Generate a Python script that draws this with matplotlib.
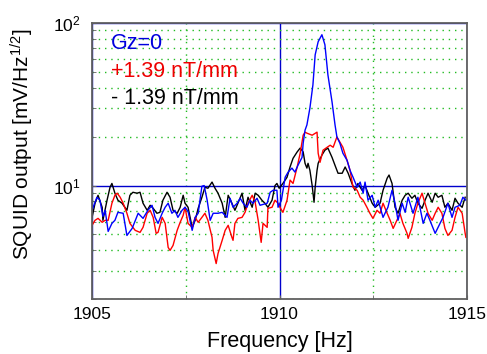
"""
SQUID output spectrum around 1910 Hz for three gradient settings (Gz).
Log y axis, blue major grid, green dotted minor grid.
"""

import matplotlib
matplotlib.use("Agg")
import matplotlib.pyplot as plt
from matplotlib.ticker import FixedLocator, MultipleLocator, NullFormatter, LogLocator

plt.rcParams["font.family"] = ["Liberation Sans", "DejaVu Sans"]
plt.rcParams["mathtext.fontset"] = "custom"
plt.rcParams["mathtext.rm"] = "Liberation Sans"
plt.rcParams["mathtext.it"] = "Liberation Sans:italic"

# =============================================================================
# Data (frequency in Hz, output in mV/Hz^1/2)
# =============================================================================

# Gz = 0 (blue)
freq_gz0 = [1905.00, 1905.13, 1905.21, 1905.29, 1905.35, 1905.43, 1905.53, 1905.61,
            1905.69, 1905.83, 1905.93, 1906.07, 1906.23, 1906.36, 1906.49, 1906.60,
            1906.68, 1906.76, 1906.87, 1906.95, 1907.03, 1907.13, 1907.21, 1907.29,
            1907.40, 1907.48, 1907.56, 1907.67, 1907.75, 1907.83, 1907.93, 1907.99,
            1908.07, 1908.15, 1908.23, 1908.36, 1908.47, 1908.60, 1908.68, 1908.76,
            1908.87, 1908.95, 1909.03, 1909.13, 1909.21, 1909.29, 1909.40, 1909.48,
            1909.67, 1909.75, 1909.83, 1909.93, 1909.96, 1910.05, 1910.15, 1910.23,
            1910.33, 1910.41, 1910.49, 1910.60, 1910.63, 1910.68, 1910.73, 1910.81,
            1910.89, 1910.95, 1911.03, 1911.13, 1911.21, 1911.29, 1911.40, 1911.48,
            1911.53, 1911.61, 1911.69, 1911.80, 1911.88, 1911.96, 1912.07, 1912.15,
            1912.23, 1912.28, 1912.36, 1912.47, 1912.55, 1912.63, 1912.76, 1912.89,
            1913.00, 1913.08, 1913.16, 1913.27, 1913.35, 1913.43, 1913.56, 1913.69,
            1913.83, 1913.93, 1914.01, 1914.15, 1914.28, 1914.36, 1914.49, 1914.60,
            1914.68, 1914.81, 1914.89, 1914.97]
out_gz0 = [7.04, 8.47, 8.12, 6.46, 7.04, 5.22, 5.85, 6.11,
           6.84, 6.75, 4.93, 5.45, 6.75, 6.28, 7.04, 7.56,
           6.37, 5.85, 6.75, 7.35, 7.78, 6.75, 7.04, 6.37,
           7.04, 7.35, 6.94, 5.30, 6.37, 6.75, 9.90, 10.0,
           8.12, 6.11, 6.75, 6.75, 6.84, 6.37, 8.35, 7.35,
           7.78, 8.35, 7.78, 7.35, 8.12, 7.78, 8.35, 7.56,
           7.78, 9.09, 9.35, 9.35, 7.35, 8.12, 11.25, 12.1,
           12.8, 12.1, 13.3, 14.9, 18.2, 21.9, 23.6, 30.0,
           41.6, 63.7, 76.7, 84.7, 73.5, 48.0, 32.7, 23.6,
           19.9, 18.2, 15.8, 14.3, 12.4, 11.25, 9.76, 10.5,
           8.97, 10.5, 8.12, 8.71, 7.35, 8.12, 6.37, 7.35,
           9.35, 7.78, 6.11, 7.78, 6.84, 8.47, 6.75, 8.47,
           5.85, 6.75, 6.11, 5.08, 5.85, 6.37, 7.78, 6.37,
           7.35, 7.56, 8.47, 8.12]

# Gz = +1.39 nT/mm (red)
freq_plus = [1905.00, 1905.08, 1905.16, 1905.27, 1905.35, 1905.43, 1905.53, 1905.61,
             1905.67, 1905.75, 1905.83, 1905.93, 1906.01, 1906.15, 1906.28, 1906.36,
             1906.47, 1906.55, 1906.63, 1906.71, 1906.76, 1906.87, 1906.95, 1907.03,
             1907.08, 1907.16, 1907.27, 1907.35, 1907.43, 1907.48, 1907.56, 1907.67,
             1907.75, 1907.83, 1907.93, 1908.01, 1908.09, 1908.20, 1908.23, 1908.31,
             1908.36, 1908.47, 1908.55, 1908.63, 1908.73, 1908.76, 1908.81, 1908.89,
             1909.00, 1909.08, 1909.16, 1909.27, 1909.35, 1909.43, 1909.51, 1909.56,
             1909.67, 1909.69, 1909.80, 1909.88, 1909.96, 1910.01, 1910.09, 1910.20,
             1910.28, 1910.36, 1910.47, 1910.55, 1910.63, 1910.68, 1910.73, 1910.87,
             1911.00, 1911.03, 1911.08, 1911.16, 1911.27, 1911.35, 1911.43, 1911.48,
             1911.53, 1911.61, 1911.69, 1911.80, 1911.88, 1911.96, 1912.07, 1912.15,
             1912.23, 1912.33, 1912.41, 1912.49, 1912.60, 1912.68, 1912.76, 1912.87,
             1912.95, 1913.03, 1913.13, 1913.21, 1913.29, 1913.40, 1913.43, 1913.53,
             1913.61, 1913.69, 1913.80, 1913.88, 1913.96, 1914.07, 1914.15, 1914.23,
             1914.33, 1914.41, 1914.49, 1914.60, 1914.68, 1914.76, 1914.87, 1914.95,
             1914.97]
out_plus = [5.69, 6.11, 6.28, 5.94, 6.11, 6.11, 7.78, 8.71,
            8.97, 8.47, 7.78, 6.75, 5.85, 5.30, 5.15, 5.53,
            6.75, 7.04, 6.37, 5.08, 5.15, 6.37, 5.85, 4.16,
            3.99, 4.28, 5.30, 5.94, 6.56, 7.35, 5.85, 5.53,
            6.37, 5.94, 6.37, 6.75, 6.11, 4.80, 3.99, 3.31,
            3.82, 4.60, 5.30, 5.69, 4.80, 4.60, 5.85, 6.28,
            6.37, 6.84, 7.78, 8.71, 7.89, 6.11, 4.47, 5.85,
            5.53, 7.24, 7.35, 8.12, 7.78, 7.35, 6.84, 8.12,
            10.8, 10.3, 13.0, 15.8, 20.4, 21.3, 21.0, 20.4,
            21.3, 15.8, 13.9, 16.5, 17.2, 17.7, 17.2, 18.5,
            19.9, 18.5, 17.2, 14.3, 12.4, 9.76, 9.35, 8.47,
            8.12, 7.35, 6.75, 6.28, 7.04, 6.75, 7.78, 6.75,
            6.11, 5.45, 6.11, 6.75, 5.85, 5.08, 4.73, 5.53,
            6.75, 7.78, 8.97, 7.78, 6.75, 6.11, 6.75, 7.35,
            6.75, 5.45, 4.93, 5.30, 6.37, 7.35, 6.75, 5.08,
            4.80]

# Gz = -1.39 nT/mm (black)
freq_minus = [1905.00, 1905.08, 1905.16, 1905.27, 1905.29, 1905.40, 1905.48, 1905.53,
              1905.61, 1905.69, 1905.80, 1905.93, 1906.01, 1906.09, 1906.20, 1906.28,
              1906.36, 1906.47, 1906.55, 1906.63, 1906.73, 1906.81, 1906.89, 1907.00,
              1907.08, 1907.16, 1907.27, 1907.35, 1907.43, 1907.48, 1907.56, 1907.67,
              1907.75, 1907.83, 1907.93, 1908.01, 1908.09, 1908.20, 1908.28, 1908.36,
              1908.47, 1908.55, 1908.63, 1908.73, 1908.81, 1908.89, 1909.00, 1909.08,
              1909.16, 1909.27, 1909.35, 1909.43, 1909.53, 1909.61, 1909.69, 1909.80,
              1909.88, 1909.93, 1909.99, 1910.09, 1910.20, 1910.28, 1910.36, 1910.47,
              1910.55, 1910.63, 1910.68, 1910.73, 1910.76, 1910.81, 1910.87, 1910.92,
              1910.95, 1911.00, 1911.03, 1911.13, 1911.21, 1911.29, 1911.40, 1911.48,
              1911.56, 1911.67, 1911.75, 1911.83, 1911.93, 1912.01, 1912.09, 1912.20,
              1912.28, 1912.36, 1912.47, 1912.55, 1912.68, 1912.76, 1912.87, 1912.92,
              1913.00, 1913.08, 1913.16, 1913.27, 1913.35, 1913.43, 1913.53, 1913.61,
              1913.69, 1913.80, 1913.88, 1913.96, 1914.07, 1914.15, 1914.23, 1914.33,
              1914.41, 1914.49, 1914.60, 1914.68, 1914.76, 1914.87, 1914.95]
out_minus = [6.37, 7.78, 8.71, 7.35, 6.11, 8.12, 9.76, 10.3,
             8.97, 8.12, 7.78, 7.04, 8.71, 9.09, 8.97, 9.09,
             7.78, 7.04, 7.56, 7.24, 6.75, 6.84, 8.12, 9.09,
             8.47, 7.04, 6.75, 7.35, 8.71, 7.78, 7.35, 5.53,
             6.11, 7.24, 8.47, 9.76, 9.62, 10.5, 9.62, 8.97,
             7.78, 6.37, 8.71, 7.78, 7.04, 7.78, 8.97, 7.04,
             8.47, 7.35, 8.97, 8.71, 8.12, 7.78, 7.35, 8.12,
             10.0, 10.3, 9.62, 10.3, 11.25, 13.0, 14.7, 16.1,
             17.0, 16.1, 13.7, 12.8, 13.7, 12.4, 10.0, 7.89,
             9.76, 12.4, 13.7, 15.4, 16.5, 17.0, 14.9, 13.3,
             11.9, 11.9, 13.0, 11.9, 10.3, 9.35, 10.3, 9.35,
             10.0, 8.97, 7.78, 7.35, 7.78, 9.35, 11.1, 11.6,
             10.3, 7.35, 6.75, 8.12, 8.71, 8.97, 8.35, 8.71,
             7.78, 7.24, 8.12, 8.97, 7.89, 8.97, 8.47, 8.71,
             7.35, 7.78, 7.04, 8.35, 7.78, 7.35, 8.47]

# Legend labels (drawn as coloured text inside the axes)
labels = ["Gz=0", "+1.39 nT/mm", "- 1.39 nT/mm"]

# =============================================================================
# Figure
# =============================================================================

fig = plt.figure(figsize=(4.87, 3.54), dpi=100)
ax = fig.add_axes([0.189, 0.155, 0.770, 0.780])

ax.plot(freq_minus, out_minus, color="black", linewidth=1.0)
ax.plot(freq_plus, out_plus, color="#ff0000", linewidth=1.0)
ax.plot(freq_gz0, out_gz0, color="#0000ff", linewidth=1.0)

ax.set_yscale("log")
ax.set_xlim(1905, 1915)
ax.set_ylim(2, 100)

# Ticks: majors 1905/1910/1915 and decades, minors every 2.5 Hz and 2..9
ax.xaxis.set_major_locator(FixedLocator([1905, 1910, 1915]))
ax.xaxis.set_minor_locator(MultipleLocator(2.5))
ax.yaxis.set_major_locator(LogLocator(base=10))
ax.yaxis.set_minor_locator(LogLocator(base=10, subs=range(2, 10)))
ax.yaxis.set_minor_formatter(NullFormatter())
ax.tick_params(which="both", direction="in", length=3, color="#606060")
ax.tick_params(axis="x", labelsize=12.5, pad=6)
ax.tick_params(axis="y", labelsize=12.5, pad=8)

# Major grid solid blue, minor grid dotted green
ax.set_axisbelow(True)
ax.grid(which="major", color="#0000cc", linestyle="-", linewidth=1.0)
ax.grid(which="minor", color="#22bb22", linestyle=(0, (1, 3.5)), linewidth=1.0)

for sp in ax.spines.values():
    sp.set_color("#606060")
    sp.set_linewidth(1.3)

# Coloured legend text
for lab, col, yy in zip(labels, ["#0000dd", "#ee0000", "black"], [0.924, 0.826, 0.728]):
    ax.text(0.05, yy, lab, color=col, fontsize=15.5, transform=ax.transAxes,
            va="center", ha="left")

ax.set_xlabel("Frequency [Hz]", fontsize=15.5, labelpad=6)
ax.set_ylabel("SQUID output [mV/Hz$^{1/2}$]", fontsize=15)
ax.yaxis.set_label_coords(-0.15, 0.56)

fig.savefig("out.png", dpi=100)
